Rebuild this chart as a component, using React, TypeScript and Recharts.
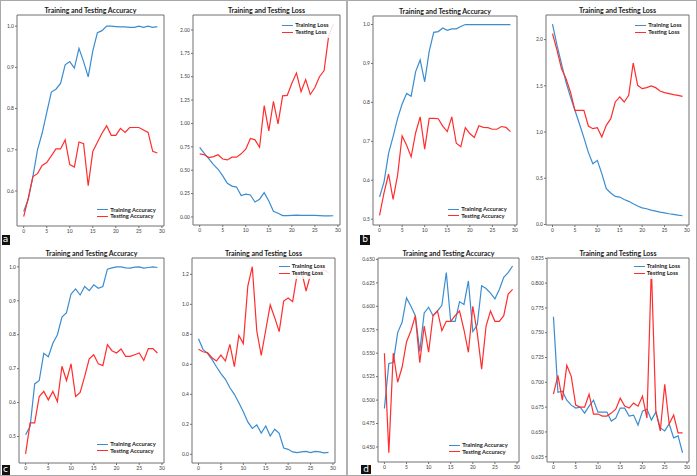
import React from 'react';
import { LineChart, Line, XAxis, YAxis, Legend, ReferenceArea } from 'recharts';

// ---------- data ----------
const epochs = [0, 1, 2, 3, 4, 5, 6, 7, 8, 9, 10, 11, 12, 13, 14, 15, 16, 17, 18, 19, 20, 21, 22, 23, 24, 25, 26, 27, 28, 29];

const aAccTrain = [0.55, 0.58, 0.635, 0.70, 0.74, 0.79, 0.84, 0.847, 0.861, 0.906, 0.914, 0.898, 0.946, 0.914, 0.877, 0.94, 0.984, 0.989, 1.0, 1.0, 0.999, 0.998, 0.998, 0.997, 0.997, 1.0, 0.997, 1.0, 0.997, 0.999];
const aAccTest = [0.538, 0.583, 0.635, 0.642, 0.662, 0.669, 0.685, 0.702, 0.702, 0.724, 0.664, 0.658, 0.719, 0.715, 0.613, 0.696, 0.718, 0.74, 0.758, 0.735, 0.735, 0.752, 0.742, 0.754, 0.754, 0.754, 0.748, 0.742, 0.696, 0.692];
const aLossTrain = [0.745, 0.68, 0.62, 0.56, 0.51, 0.44, 0.36, 0.33, 0.32, 0.23, 0.245, 0.235, 0.16, 0.19, 0.26, 0.17, 0.06, 0.04, 0.015, 0.015, 0.017, 0.02, 0.018, 0.016, 0.017, 0.016, 0.015, 0.012, 0.012, 0.013];
const aLossTest = [0.675, 0.665, 0.635, 0.645, 0.665, 0.62, 0.61, 0.64, 0.64, 0.675, 0.725, 0.84, 0.825, 0.745, 1.19, 0.92, 1.235, 0.995, 1.295, 1.30, 1.43, 1.54, 1.34, 1.47, 1.31, 1.385, 1.50, 1.565, 1.94, 2.06];

const bAccTrain = [0.557, 0.596, 0.669, 0.712, 0.759, 0.796, 0.823, 0.816, 0.879, 0.909, 0.853, 0.931, 0.98, 0.982, 0.991, 0.985, 0.989, 0.989, 0.995, 1.0, 1.0, 1.0, 1.0, 1.0, 1.0, 1.0, 1.0, 1.0, 1.0, 1.0];
const bAccTest = [0.510, 0.568, 0.616, 0.551, 0.613, 0.714, 0.69, 0.66, 0.722, 0.763, 0.68, 0.759, 0.759, 0.758, 0.739, 0.725, 0.763, 0.695, 0.686, 0.735, 0.72, 0.71, 0.74, 0.736, 0.735, 0.731, 0.731, 0.738, 0.736, 0.725];
const bLossTrain = [2.166, 1.94, 1.74, 1.54, 1.38, 1.235, 1.09, 0.94, 0.78, 0.657, 0.693, 0.55, 0.386, 0.34, 0.303, 0.296, 0.27, 0.25, 0.224, 0.2, 0.18, 0.17, 0.155, 0.144, 0.134, 0.126, 0.116, 0.108, 0.10, 0.094];
const bLossTest = [2.065, 1.885, 1.686, 1.578, 1.433, 1.235, 1.235, 1.235, 1.065, 1.036, 1.047, 0.946, 1.072, 1.144, 1.325, 1.38, 1.325, 1.397, 1.747, 1.505, 1.469, 1.48, 1.498, 1.48, 1.444, 1.426, 1.415, 1.404, 1.397, 1.386];

const cAccTrain = [0.505, 0.53, 0.655, 0.665, 0.745, 0.735, 0.775, 0.80, 0.852, 0.865, 0.92, 0.935, 0.917, 0.942, 0.93, 0.947, 0.937, 0.942, 0.993, 0.997, 1.0, 1.0, 0.997, 0.996, 0.999, 1.0, 0.996, 0.998, 1.0, 0.998];
const cAccTest = [0.449, 0.54, 0.54, 0.618, 0.633, 0.608, 0.633, 0.603, 0.707, 0.665, 0.714, 0.618, 0.63, 0.677, 0.729, 0.741, 0.714, 0.709, 0.771, 0.753, 0.746, 0.758, 0.736, 0.736, 0.741, 0.746, 0.724, 0.759, 0.759, 0.746];
const cLossTrain = [0.771, 0.70, 0.673, 0.633, 0.584, 0.538, 0.50, 0.444, 0.40, 0.344, 0.284, 0.216, 0.173, 0.196, 0.142, 0.189, 0.122, 0.167, 0.14, 0.042, 0.033, 0.016, 0.011, 0.016, 0.02, 0.011, 0.02, 0.016, 0.009, 0.013];
const cLossTest = [0.70, 0.684, 0.678, 0.644, 0.622, 0.662, 0.622, 0.733, 0.584, 0.793, 0.738, 1.122, 1.251, 0.822, 0.66, 0.829, 0.996, 0.911, 0.818, 1.022, 1.042, 1.018, 1.20, 1.22, 1.089, 1.20, 1.22, 1.21, 1.23, 1.21];

const dAccTrain = [0.491, 0.539, 0.540, 0.572, 0.583, 0.609, 0.600, 0.590, 0.552, 0.593, 0.599, 0.590, 0.595, 0.601, 0.636, 0.584, 0.584, 0.605, 0.602, 0.627, 0.573, 0.580, 0.622, 0.619, 0.614, 0.608, 0.618, 0.631, 0.636, 0.643];
const dAccTest = [0.550, 0.444, 0.550, 0.519, 0.535, 0.562, 0.574, 0.590, 0.540, 0.579, 0.551, 0.590, 0.595, 0.574, 0.584, 0.584, 0.590, 0.595, 0.575, 0.551, 0.600, 0.572, 0.533, 0.579, 0.595, 0.584, 0.584, 0.590, 0.613, 0.618];
const dLossTrain = [0.766, 0.690, 0.691, 0.682, 0.677, 0.674, 0.675, 0.669, 0.676, 0.682, 0.670, 0.670, 0.670, 0.661, 0.664, 0.674, 0.674, 0.666, 0.667, 0.657, 0.671, 0.673, 0.662, 0.670, 0.654, 0.651, 0.658, 0.644, 0.646, 0.629];
const dLossTest = [0.688, 0.707, 0.682, 0.717, 0.706, 0.677, 0.675, 0.675, 0.688, 0.668, 0.668, 0.666, 0.666, 0.669, 0.673, 0.684, 0.676, 0.674, 0.679, 0.676, 0.686, 0.664, 0.816, 0.671, 0.651, 0.698, 0.658, 0.667, 0.649, 0.649];

// tick labels
const xTicks = [0, 5, 10, 15, 20, 25, 30];
const yTicksAAcc = [0.6, 0.7, 0.8, 0.9, 1.0];
const yTicksALoss = [0, 0.25, 0.5, 0.75, 1.0, 1.25, 1.5, 1.75, 2.0];
const yTicksBAcc = [0.5, 0.6, 0.7, 0.8, 0.9, 1.0];
const yTicksBLoss = [0, 0.5, 1.0, 1.5, 2.0];
const yTicksCAcc = [0.5, 0.6, 0.7, 0.8, 0.9, 1.0];
const yTicksCLoss = [0, 0.2, 0.4, 0.6, 0.8, 1.0, 1.2];
const yTicksDAcc = [0.45, 0.475, 0.5, 0.525, 0.55, 0.575, 0.6, 0.625, 0.65];
const yTicksDLoss = [0.625, 0.65, 0.675, 0.7, 0.725, 0.75, 0.775, 0.8, 0.825];

const accNames = ['Training Accuracy', 'Testing Accuracy'];
const lossNames = ['Training Loss', 'Testing Loss'];
const accTitle = 'Training and Testing Accuracy';
const lossTitle = 'Training and Testing Loss';
const panelLetters = ['a', 'b', 'c', 'd'];

// ---------- styles / layout ----------
const BLUE = '#3a8dd0';
const RED = '#ff2d2d';
const AXIS = '#707070';
const X_DOMAIN: [number, number] = [-1.45, 30.45];
const YW = 30;
const MT = 14;
const MR = 6;
const XH = 12;

type Box = { l: number; t: number; r: number; b: number };
type Cfg = {
  title: string;
  train: number[];
  test: number[];
  names: string[];
  box: Box;
  yDomain: [number, number];
  yTicks: number[];
  digits: number;
  legend: { x: number; y: number };
};

const panels: Cfg[] = [
  { title: accTitle, train: aAccTrain, test: aAccTest, names: accNames, box: { l: 17, t: 15, r: 164, b: 226 }, yDomain: [0.515, 1.027], yTicks: yTicksAAcc, digits: 1, legend: { x: 97, y: 210 } },
  { title: lossTitle, train: aLossTrain, test: aLossTest, names: lossNames, box: { l: 193, t: 15, r: 340, b: 225 }, yDomain: [-0.086, 2.16], yTicks: yTicksALoss, digits: 2, legend: { x: 282, y: 25.7 } },
  { title: accTitle, train: bAccTrain, test: bAccTest, names: accNames, box: { l: 373, t: 16, r: 517, b: 225 }, yDomain: [0.485, 1.022], yTicks: yTicksBAcc, digits: 1, legend: { x: 448, y: 209.3 } },
  { title: lossTitle, train: bLossTrain, test: bLossTest, names: lossNames, box: { l: 546, t: 15, r: 689, b: 225 }, yDomain: [-0.006, 2.266], yTicks: yTicksBLoss, digits: 1, legend: { x: 635, y: 25.7 } },
  { title: accTitle, train: cAccTrain, test: cAccTest, names: accNames, box: { l: 19, t: 258, r: 164, b: 463 }, yDomain: [0.422, 1.026], yTicks: yTicksCAcc, digits: 1, legend: { x: 97, y: 444.3 } },
  { title: lossTitle, train: cLossTrain, test: cLossTest, names: lossNames, box: { l: 192, t: 258, r: 335, b: 463 }, yDomain: [-0.058, 1.309], yTicks: yTicksCLoss, digits: 1, legend: { x: 278.5, y: 266.7 } },
  { title: accTitle, train: dAccTrain, test: dAccTest, names: accNames, box: { l: 378, t: 258, r: 519, b: 462 }, yDomain: [0.434, 0.6515], yTicks: yTicksDAcc, digits: 3, legend: { x: 449, y: 445.3 } },
  { title: lossTitle, train: dLossTrain, test: dLossTest, names: lossNames, box: { l: 547, t: 258, r: 689, b: 462 }, yDomain: [0.6197, 0.8253], yTicks: yTicksDLoss, digits: 3, legend: { x: 633.5, y: 266.7 } },
];

const letterPos = [
  { x: 1.5, y: 235 },
  { x: 360, y: 235 },
  { x: 1.5, y: 465 },
  { x: 361, y: 464.5 },
];

const tickStyle = { fontSize: 5, fill: '#404040', fontFamily: 'Lato' };

function LegendBox(props: any) {
  const order: string[] = props.order || [];
  const payload = [...(props.payload || [])].sort(
    (a: any, b: any) => order.indexOf(a.value) - order.indexOf(b.value)
  );
  return (
    <div>
      {payload.map((p: any) => (
        <div key={p.value} style={{ display: 'flex', alignItems: 'center', height: 6.7 }}>
          <span style={{ display: 'inline-block', width: 11, height: 0, borderTop: `1.3px solid ${p.color}`, marginRight: 2.3 }} />
          <span style={{ fontFamily: 'Lato', fontWeight: 700, fontSize: 5.8, lineHeight: '6.7px', color: '#222', whiteSpace: 'nowrap' }}>{p.value}</span>
        </div>
      ))}
    </div>
  );
}

function Panel({ cfg }: { cfg: Cfg }) {
  const { box } = cfg;
  const left = box.l - YW;
  const top = box.t - MT;
  const width = box.r - box.l + YW + MR;
  const height = box.b - box.t + MT + XH;
  const data = epochs.map((e, i) => ({ epoch: e, train: cfg.train[i], test: cfg.test[i] }));
  const fmt = (v: number) => v.toFixed(cfg.digits);
  const legendLeft = cfg.legend.x - 3 - left;
  const legendTop = cfg.legend.y - 3.35 - 2 - top;
  const legendWidth = box.r - 4 - (cfg.legend.x - 3);
  return (
    <div style={{ position: 'absolute', left, top, width, height }}>
      <LineChart width={width} height={height} data={data} margin={{ top: MT, right: MR, left: 0, bottom: 0 }}>
        <XAxis
          dataKey="epoch"
          type="number"
          domain={X_DOMAIN}
          ticks={xTicks}
          allowDataOverflow
          interval={0}
          height={XH}
          tickSize={2}
          tickMargin={1}
          axisLine={false}
          tickLine={{ stroke: AXIS }}
          tick={tickStyle}
        />
        <YAxis
          type="number"
          domain={cfg.yDomain}
          ticks={cfg.yTicks}
          allowDataOverflow
          interval={0}
          width={YW}
          tickSize={2}
          tickMargin={1}
          axisLine={false}
          tickLine={{ stroke: AXIS }}
          tick={tickStyle}
          tickFormatter={fmt}
        />
        <ReferenceArea
          x1={X_DOMAIN[0]}
          x2={X_DOMAIN[1]}
          y1={cfg.yDomain[0]}
          y2={cfg.yDomain[1]}
          fill="none"
          fillOpacity={0}
          stroke={AXIS}
          strokeWidth={1}
          ifOverflow="visible"
        />
        <Line type="linear" dataKey="train" name={cfg.names[0]} stroke={BLUE} strokeWidth={1.2} dot={false} activeDot={false} isAnimationActive={false} />
        <Line type="linear" dataKey="test" name={cfg.names[1]} stroke={RED} strokeWidth={1.2} dot={false} activeDot={false} isAnimationActive={false} />
        <Legend
          layout="vertical"
          align="center"
          verticalAlign="middle"
          content={<LegendBox order={cfg.names} />}
          wrapperStyle={{
            left: legendLeft,
            top: legendTop,
            width: legendWidth,
            padding: '2px 0 2px 3px',
            boxSizing: 'border-box',
            backgroundColor: 'rgba(255,255,255,0.85)',
            lineHeight: 0,
          }}
        />
      </LineChart>
      <div
        style={{
          position: 'absolute',
          left: YW,
          width: box.r - box.l,
          top: MT - 10.5,
          height: 10,
          lineHeight: '10px',
          textAlign: 'center',
          fontFamily: 'Lato',
          fontWeight: 700,
          fontSize: 7,
          color: '#1a1a1a',
          whiteSpace: 'nowrap',
        }}
      >
        {cfg.title}
      </div>
    </div>
  );
}

export default function App() {
  return (
    <div style={{ position: 'absolute', left: 0, top: 0, width: 697, height: 476, background: '#fff', overflow: 'hidden', fontFamily: 'Lato' }}>
      {panels.map((p, i) => (
        <Panel key={i} cfg={p} />
      ))}
      <div style={{ position: 'absolute', left: 0, top: 0, width: 697, height: 476, border: '1.5px solid #a8a8a8', boxSizing: 'border-box', pointerEvents: 'none' }} />
      <div style={{ position: 'absolute', left: 346, top: 0, width: 1.5, height: 476, background: '#b0b0b0' }} />
      {panelLetters.map((l, i) => (
        <div
          key={l}
          style={{
            position: 'absolute',
            left: letterPos[i].x,
            top: letterPos[i].y,
            width: i % 2 === 0 ? 8 : 10,
            height: 9.5,
            background: '#111',
            color: '#fff',
            fontFamily: 'DejaVu Sans',
            fontSize: 9,
            lineHeight: '9px',
            textAlign: 'center',
          }}
        >
          {l}
        </div>
      ))}
    </div>
  );
}
